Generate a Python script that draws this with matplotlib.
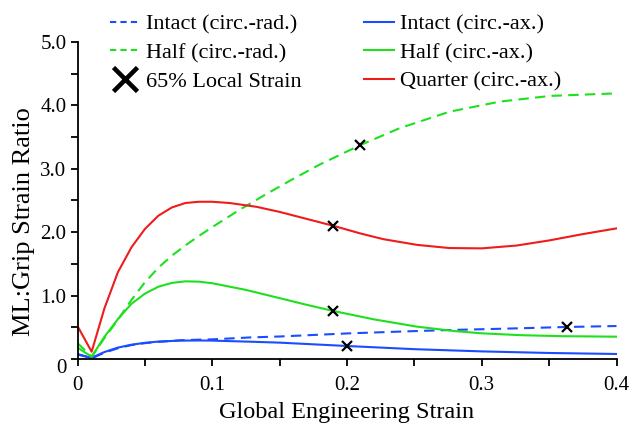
import matplotlib
matplotlib.use("Agg")
import matplotlib.pyplot as plt
from matplotlib.lines import Line2D

plt.rcParams['font.family'] = ['Liberation Serif', 'DejaVu Serif']

# ---- data ----
quarter_ax_x = [0, 0.0105, 0.02, 0.03, 0.04, 0.05, 0.06, 0.07, 0.08, 0.09, 0.10, 0.113, 0.133,
                0.15, 0.17, 0.19, 0.21, 0.227, 0.252, 0.276, 0.30, 0.326, 0.35, 0.375, 0.40]
quarter_ax_y = [0.52, 0.115, 0.80, 1.37, 1.76, 2.05, 2.26, 2.39, 2.46, 2.48, 2.48, 2.46, 2.40,
                2.32, 2.21, 2.10, 1.98, 1.89, 1.80, 1.75, 1.745, 1.79, 1.87, 1.97, 2.06]

half_rad_x = [0, 0.0105, 0.02, 0.03, 0.04, 0.05, 0.06, 0.07, 0.08, 0.09, 0.10, 0.12, 0.14,
              0.16, 0.18, 0.21, 0.239, 0.276, 0.3135, 0.351, 0.40]
half_rad_y = [0.25, 0.036, 0.33, 0.62, 0.93, 1.21, 1.44, 1.63, 1.79, 1.94, 2.08, 2.35, 2.60,
              2.84, 3.07, 3.375, 3.64, 3.90, 4.06, 4.15, 4.19]

half_ax_x = [0, 0.0105, 0.02, 0.03, 0.04, 0.05, 0.06, 0.07, 0.08, 0.09, 0.10, 0.125, 0.15,
             0.17, 0.19, 0.22, 0.252, 0.28, 0.30, 0.33, 0.36, 0.40]
half_ax_y = [0.18, 0.036, 0.35, 0.63, 0.87, 1.03, 1.14, 1.20, 1.225, 1.22, 1.195, 1.09, 0.96,
             0.855, 0.757, 0.625, 0.51, 0.44, 0.405, 0.375, 0.36, 0.352]

intact_rad_x = [0, 0.0105, 0.02, 0.03, 0.04, 0.05, 0.06, 0.076, 0.09, 0.10, 0.128, 0.15,
                0.202, 0.25, 0.276, 0.32, 0.363, 0.40]
intact_rad_y = [0.08, 0.01, 0.10, 0.17, 0.22, 0.25, 0.27, 0.295, 0.305, 0.31, 0.34, 0.355,
                0.405, 0.44, 0.457, 0.48, 0.505, 0.52]

intact_ax_x = [0, 0.0105, 0.02, 0.03, 0.04, 0.05, 0.06, 0.076, 0.09, 0.10, 0.128, 0.15,
               0.20, 0.25, 0.30, 0.35, 0.40]
intact_ax_y = [0.07, 0.02, 0.11, 0.18, 0.225, 0.255, 0.275, 0.29, 0.292, 0.29, 0.273, 0.258,
               0.205, 0.155, 0.12, 0.095, 0.079]

cross_x = [0.2097, 0.1896, 0.1896, 0.200, 0.3633]
cross_y = [3.375, 2.098, 0.757, 0.205, 0.505]

x_ticks = [0, 0.1, 0.2, 0.3, 0.4]
x_ticklabels = ['0', '0.1', '0.2', '0.3', '0.4']
y_ticks = [0, 1, 2, 3, 4, 5]
y_ticklabels = ['0', '1.0', '2.0', '3.0', '4.0', '5.0']

BLUE = '#1a4dff'
GREEN = '#1ee01e'
RED = '#ee1c1c'

fig = plt.figure(figsize=(6.32, 4.23), dpi=100)
ax = fig.add_axes([77.5/632, 1-359/423, (616.5-77.5)/632, (359-42)/423])

lw = 1.5
dash = (5, 3)
ax.plot(intact_rad_x, intact_rad_y, color=BLUE, lw=lw, dashes=dash)
ax.plot(intact_ax_x, intact_ax_y, color=BLUE, lw=lw)
ax.plot(half_rad_x, half_rad_y, color=GREEN, lw=lw, dashes=dash)
ax.plot(half_ax_x, half_ax_y, color=GREEN, lw=lw)
ax.plot(quarter_ax_x, quarter_ax_y, color=RED, lw=lw)
ax.plot(cross_x, cross_y, ls='none', marker='x', color='black', ms=7.5, mew=1.6, zorder=5)

ax.set_xlim(0, 0.4)
ax.set_ylim(0, 5)
ax.set_xticks(x_ticks)
ax.set_xticklabels(x_ticklabels)
ax.set_xticks([0.05, 0.15, 0.25, 0.35], minor=True)
ax.set_yticks(y_ticks)
ax.set_yticklabels(y_ticklabels)
ax.set_yticks([0.5, 1.5, 2.5, 3.5, 4.5], minor=True)
for s in ['top', 'right']:
    ax.spines[s].set_visible(False)
for s in ['left', 'bottom']:
    ax.spines[s].set_linewidth(1.3)
ax.tick_params(which='both', direction='out', length=5, width=1.3, labelsize=15)
ax.tick_params(axis='x', pad=7)
ax.tick_params(axis='y', pad=3)
ax.yaxis.get_major_ticks()[0].label1.set_verticalalignment('top')
ax.set_xlabel('Global Engineering Strain', fontsize=17.5, labelpad=5)
ax.set_ylabel('ML:Grip Strain Ratio', fontsize=19)
ax.yaxis.set_label_coords((35 - 77.5) / 539, (359 - 222) / 317)

handles = [
    Line2D([], [], color=BLUE, lw=lw, dashes=(3, 2)),
    Line2D([], [], color=GREEN, lw=lw, dashes=(3, 2)),
    Line2D([], [], ls='none', marker='x', color='black', ms=17, mew=3.3),
    Line2D([], [], color=BLUE, lw=lw),
    Line2D([], [], color=GREEN, lw=lw),
    Line2D([], [], color=RED, lw=lw),
]
labels = ['Intact (circ.-rad.)', 'Half (circ.-rad.)', '65% Local Strain',
          'Intact (circ.-ax.)', 'Half (circ.-ax.)', 'Quarter (circ.-ax.)']
fig.legend(handles, labels, ncol=2, loc='upper left', bbox_to_anchor=(110/632, 1-14/423),
           frameon=False, fontsize=16, handlelength=1.35, handletextpad=0.28,
           columnspacing=2.8, labelspacing=0.36, borderpad=0.0, borderaxespad=0.0)

fig.savefig('out.png', dpi=100)
